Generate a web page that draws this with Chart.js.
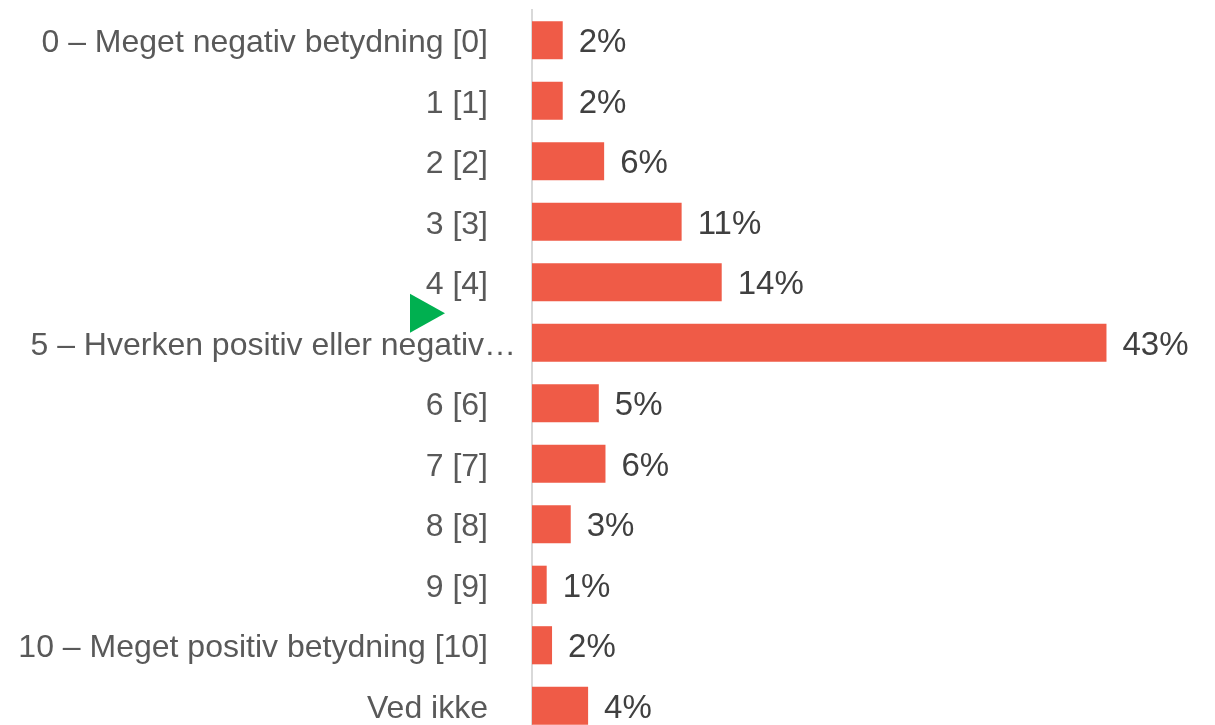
<!DOCTYPE html>
<html>
<head>
<meta charset="utf-8">
<script src="https://cdn.jsdelivr.net/npm/chart.js@4/dist/chart.umd.min.js"></script>
<style>
  html, body { margin: 0; padding: 0; background: #fff; overflow: hidden; }
  #wrap { position: relative; width: 1215px; height: 740px; }
</style>
</head>
<body>
<div id="wrap"><canvas id="chart"></canvas></div>
<script>
const categories = [
  "0 – Meget negativ betydning [0]",
  "1 [1]",
  "2 [2]",
  "3 [3]",
  "4 [4]",
  "5 – Hverken positiv eller negativ…",
  "6 [6]",
  "7 [7]",
  "8 [8]",
  "9 [9]",
  "10 – Meget positiv betydning [10]",
  "Ved ikke",
];
// bar lengths (percent)
const values = [2.3, 2.3, 5.4, 11.2, 14.2, 43.0, 5.0, 5.5, 2.9, 1.1, 1.5, 4.2];
// printed labels
const value_labels = ["2%", "2%", "6%", "11%", "14%", "43%", "5%", "6%", "3%", "1%", "2%", "4%"];
const marked_index = 5;

const font_family = "'Liberation Sans', Arial, sans-serif";
const label_color = "#595959";
Chart.defaults.font.family = font_family;

const valueLabelPlugin = {
  id: "valueLabels",
  afterDatasetsDraw(chart) {
    const ctx = chart.ctx;
    const meta = chart.getDatasetMeta(0);
    ctx.save();
    ctx.font = "33px " + font_family;
    ctx.fillStyle = "#404040";
    ctx.textAlign = "left";
    ctx.textBaseline = "middle";
    meta.data.forEach((bar, i) => {
      ctx.fillText(value_labels[i], bar.x + 16, bar.y + 3);
    });
    ctx.restore();
  },
};

// the truncated label sits closer to the axis, plus the green marker above it
const markerPlugin = {
  id: "marker",
  afterDraw(chart) {
    const ctx = chart.ctx;
    const y = chart.scales.y.getPixelForValue(marked_index);
    const x = chart.chartArea.left;
    ctx.save();
    ctx.font = "32px " + font_family;
    ctx.fillStyle = label_color;
    ctx.textAlign = "right";
    ctx.textBaseline = "middle";
    ctx.fillText(categories[marked_index], x - 16, y + 3);

    ctx.fillStyle = "#00B050";
    ctx.beginPath();
    ctx.moveTo(x - 122, y - 49);
    ctx.lineTo(x - 122, y - 10);
    ctx.lineTo(x - 87, y - 29.5);
    ctx.closePath();
    ctx.fill();
    ctx.restore();
  },
};

new Chart(document.getElementById("chart"), {
  type: "bar",
  data: {
    labels: categories,
    datasets: [{
      data: values,
      backgroundColor: "#EF5B47",
      borderWidth: 0,
      categoryPercentage: 1,
      barPercentage: 0.63,
    }],
  },
  options: {
    indexAxis: "y",
    responsive: true,
    maintainAspectRatio: false,
    animation: false,
    layout: { padding: { top: 10, bottom: 4, left: 0, right: 15 } },
    plugins: {
      legend: { display: false },
      tooltip: { enabled: false },
    },
    scales: {
      x: {
        display: false,
        min: 0,
        max: 50,
      },
      y: {
        grid: { display: false, drawTicks: false },
        border: { display: true, color: "#D9D9D9", width: 2 },
        ticks: {
          color: (c) => c.index === marked_index ? "rgba(0,0,0,0)" : label_color,
          font: { size: 32 },
          padding: 44,
          labelOffset: 3,
        },
        afterFit(scale) {
          scale.width = 532;
          scale.paddingTop = 0;
          scale.paddingBottom = 0;
        },
      },
    },
  },
  plugins: [valueLabelPlugin, markerPlugin],
});
</script>
</body>
</html>
